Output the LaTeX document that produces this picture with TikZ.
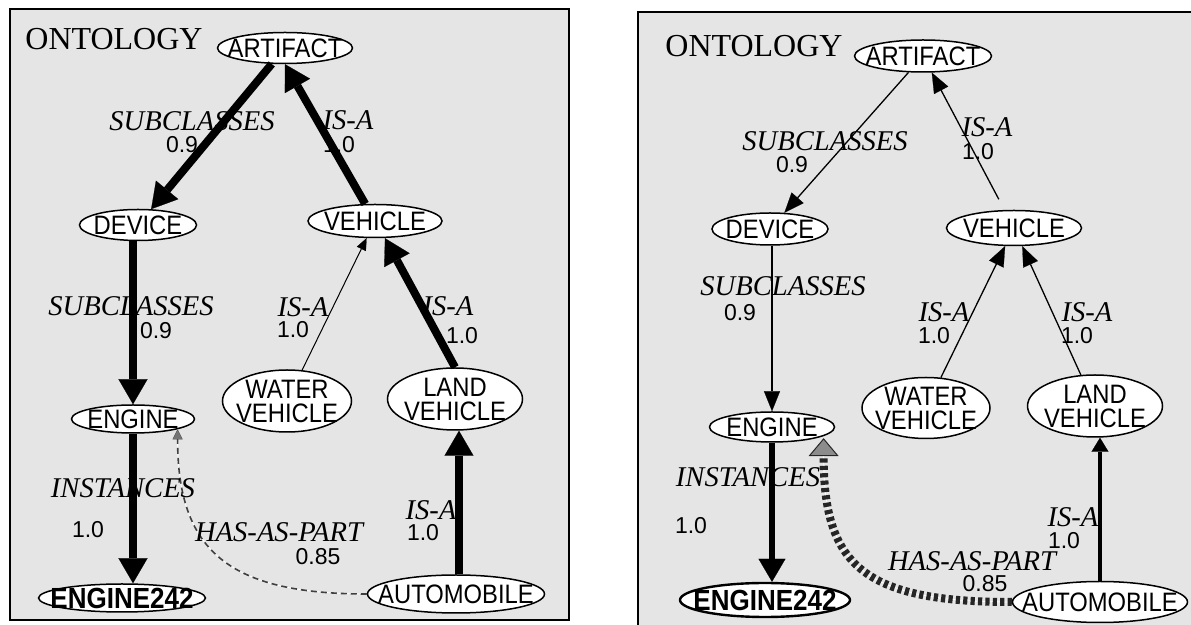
\documentclass[tikz,border=0pt]{standalone}
\usepackage{graphicx}
\usepackage{fontspec}
\setmainfont{Liberation Serif}
\setsansfont{Liberation Sans}
\usetikzlibrary{arrows.meta, shapes.geometric}
\newcommand{\ontxt}[1]{\smash{\makebox[0pt]{\raisebox{-.5\height}{\scalebox{1}[1.12]{#1}}}}}

\begin{document}
\begin{tikzpicture}[x=0.5pt, y=-0.5pt,
  every node/.style={inner sep=0pt},
  concept/.style={draw, ellipse, fill=white, line width=0.75pt,
                  font=\sffamily\fontsize{11.9}{10}\selectfont},
  rel/.style={font=\itshape\fontsize{14.3}{16}\selectfont},
  wt/.style={font=\sffamily\fontsize{11.5}{13}\selectfont},
  heavyarc/.style={line width=4pt,
                   -{Triangle[length=12.5pt, width=14.5pt, line width=0.1pt]}},
  hairarc/.style={line width=0.5pt,
                  -{Triangle[length=6pt, width=5pt, line width=0.1pt]}},
  finearc/.style={line width=0.65pt,
                  -{Triangle[length=10pt, width=8pt, line width=0.1pt]}},
  midarc/.style={line width=3pt,
                 -{Triangle[length=11.5pt, width=13.5pt, line width=0.1pt]}},
  autoarc/.style={line width=1.6pt,
                  -{Triangle[length=7pt, width=8.5pt, line width=0.1pt]}},
  dashedarc/.style={line width=0.8pt, black!75, dash pattern=on 3pt off 2pt,
                    preaction={draw=white, solid},
                    -{Triangle[length=5pt, width=5pt, line width=0.1pt, fill=black!55]}},
  partarc/.style={line width=4pt, black!85, dash pattern=on 2.1pt off 1.6pt,
                  preaction={draw=white, solid}, shorten >=1pt,
                  -{Triangle[length=9pt, width=15pt, line width=0.5pt, fill=black!45]}}
]
  \useasboundingbox (0,0) rectangle (1191,625);

  \draw[line width=1pt, fill=black!10] (10,9) rectangle (569,620);
  \fill[black!10] (638,12) rectangle (1191,625);
  \draw[line width=1pt] (638,625) -- (638,12) -- (1191,12);

  \node[font=\fontsize{16}{18}\selectfont, anchor=base west] (ontL) at (25,50) {ONTOLOGY};
  \node[font=\fontsize{16}{18}\selectfont, anchor=base west] (ontR) at (665,57) {ONTOLOGY};

  \node[concept, minimum width=67.5pt, minimum height=15.5pt] (artL) at (285,48) {\ontxt{ARTIFACT}};
  \node[concept, minimum width=58.5pt, minimum height=15.5pt] (devL) at (138,225) {\ontxt{DEVICE}};
  \node[concept, minimum width=67pt, minimum height=16.5pt] (vehL) at (375,221) {\ontxt{VEHICLE}};
  \node[concept, minimum width=61.5pt, minimum height=14pt] (engL) at (133,419) {\ontxt{ENGINE}};
  \node[concept, minimum width=83.5pt, minimum height=14pt,
        font=\sffamily\bfseries\fontsize{13}{12}\selectfont] (e242L) at (122,598) {\ontxt{ENGINE242}};
  \node[concept, minimum width=64.5pt, minimum height=31pt] (watL) at (287,401)
       {\ontxt{\shortstack{WATER\\[-0.5pt]VEHICLE}}};
  \node[concept, minimum width=67.5pt, minimum height=31pt] (lanL) at (455,399)
       {\ontxt{\shortstack{LAND\\[-0.5pt]VEHICLE}}};
  \node[concept, minimum width=88.5pt, minimum height=19pt] (autL) at (456,594) {\ontxt{AUTOMOBILE}};

  \draw[heavyarc] (artL) -- (devL);
  \draw[heavyarc] (vehL) -- (artL.south);
  \draw[heavyarc] (devL.south -| engL.north) -- (engL.north);
  \draw[hairarc] (watL) -- (vehL);
  \draw[heavyarc] (lanL.north) -- ([xshift=5pt]vehL.south);
  \draw[heavyarc] (engL.south) -- (engL.south |- e242L.north);
  \draw[heavyarc] ([xshift=1.5pt]autL.north) -- ([xshift=1.5pt]autL.north |- lanL.south);
  \draw[dashedarc] (autL.west) .. controls +(-70pt,0pt) and +(0pt,-60pt) .. (engL.-13);

  \node[rel] (sc1) at (192,121) {SUBCLASSES};
  \node[wt]  (sc1w) at (182,145) {0.9};
  \node[rel] (isa1) at (348,120) {IS-A};
  \node[wt]  (isa1w) at (339,145) {1.0};
  \node[rel] (sc2) at (131,306) {SUBCLASSES};
  \node[wt]  (sc2w) at (156,331) {0.9};
  \node[rel] (isa2) at (303,307) {IS-A};
  \node[wt]  (isa2w) at (293,330) {1.0};
  \node[rel] (isa3) at (448,306) {IS-A};
  \node[wt]  (isa3w) at (462,336) {1.0};
  \node[rel] (ins1) at (123,488) {INSTANCES};
  \node[wt]  (ins1w) at (88,530) {1.0};
  \node[rel] (hap1) at (279,532) {HAS-AS-PART};
  \node[wt]  (hap1w) at (318,557) {0.85};
  \node[rel] (isa4) at (431,510) {IS-A};
  \node[wt]  (isa4w) at (423,533) {1.0};

  \node[concept, minimum width=68.5pt, minimum height=16pt] (artR) at (923,56) {\ontxt{ARTIFACT}};
  \node[concept, minimum width=58pt, minimum height=16pt] (devR) at (770,229) {\ontxt{DEVICE}};
  \node[concept, minimum width=67.5pt, minimum height=17.5pt] (vehR) at (1014,228) {\ontxt{VEHICLE}};
  \node[concept, minimum width=62.5pt, minimum height=15pt] (engR) at (772,427) {\ontxt{ENGINE}};
  \node[concept, minimum width=85pt, minimum height=17pt, line width=1.2pt,
        font=\sffamily\bfseries\fontsize{13}{12}\selectfont] (e242R) at (765,600) {\ontxt{ENGINE242}};
  \node[concept, minimum width=64pt, minimum height=30.5pt] (watR) at (926,408)
       {\ontxt{\shortstack{WATER\\[-0.5pt]VEHICLE}}};
  \node[concept, minimum width=67.5pt, minimum height=31pt] (lanR) at (1095,406)
       {\ontxt{\shortstack{LAND\\[-0.5pt]VEHICLE}}};
  \node[concept, minimum width=87.5pt, minimum height=20.5pt] (autR) at (1100,602) {\ontxt{AUTOMOBILE}};

  \draw[finearc] (artR) -- (devR);
  \draw[finearc, shorten <=6pt] (vehR) -- (artR);
  \draw[finearc] (devR.south -| engR.north) -- (engR.north);
  \draw[finearc] (watR) -- (vehR);
  \draw[finearc] (lanR) -- (vehR);
  \draw[midarc] (engR.south) -- (engR.south |- e242R.north);
  \draw[autoarc] (autR.north) -- (autR.north |- lanR.south);
  \draw[partarc] (autR.west) .. controls +(-75pt,0pt) and +(0pt,-64pt) .. (engR.-10);

  \node[rel] (sc3) at (825,141) {SUBCLASSES};
  \node[wt]  (sc3w) at (792,165) {0.9};
  \node[rel] (isa5) at (987,127) {IS-A};
  \node[wt]  (isa5w) at (978,152) {1.0};
  \node[rel] (sc4) at (783,286) {SUBCLASSES};
  \node[wt]  (sc4w) at (740,313) {0.9};
  \node[rel] (isa6) at (944,312) {IS-A};
  \node[wt]  (isa6w) at (934,336) {1.0};
  \node[rel] (isa7) at (1087,312) {IS-A};
  \node[wt]  (isa7w) at (1077,336) {1.0};
  \node[rel] (ins2) at (748,477) {INSTANCES};
  \node[wt]  (ins2w) at (691,526) {1.0};
  \node[rel] (isa8) at (1073,517) {IS-A};
  \node[wt]  (isa8w) at (1064,541) {1.0};
  \node[rel] (hap2) at (972,561) {HAS-AS-PART};
  \node[wt]  (hap2w) at (985,584) {0.85};
\end{tikzpicture}
\end{document}
